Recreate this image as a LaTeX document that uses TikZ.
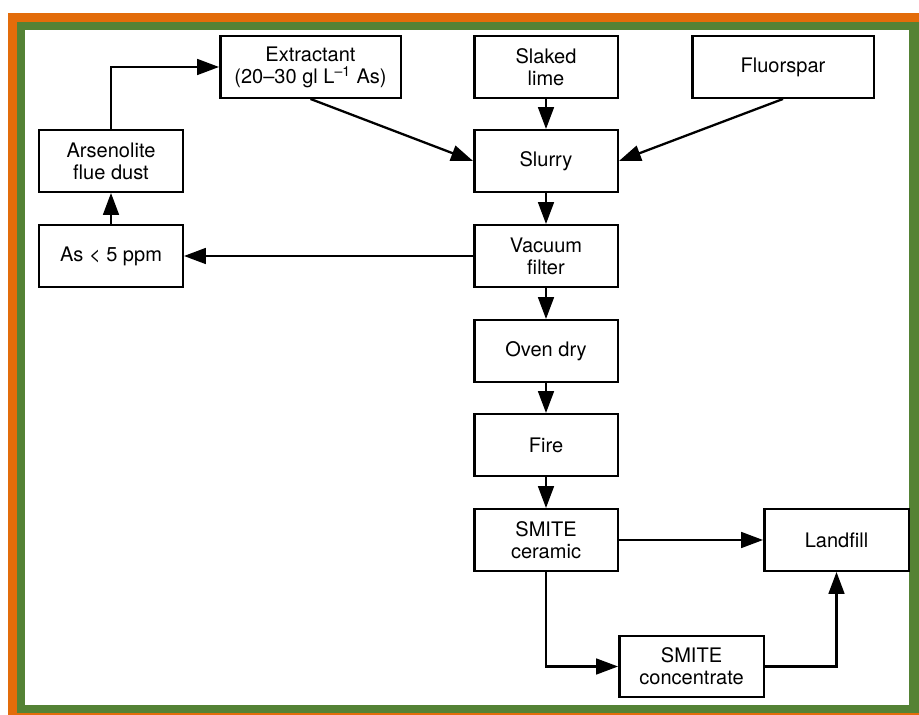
\documentclass[tikz,border=0pt]{standalone}
\usepackage{fontspec}
\setmainfont{TeX Gyre Heros}
\usetikzlibrary{arrows.meta,calc}
\definecolor{frameorange}{RGB}{227,108,10}
\definecolor{framegreen}{RGB}{84,130,53}

\begin{document}
\begin{tikzpicture}[x=0.02cm,y=-0.02cm,
  box/.style={draw,line width=1.4pt,minimum width=2.87cm,minimum height=1.23cm,
    align=center,inner sep=2pt,font=\fontsize{11.4}{12.6}\selectfont},
  flow/.style={line width=1.3pt,-{Triangle[length=12.5pt,width=9pt]}}]

  %% Frame
  \useasboundingbox (0,0) rectangle (919,715);
  \fill[frameorange] (8,13) rectangle (930,725);
  \fill[framegreen] (17,22) rectangle (925,713);
  \fill[white] (25,30) rectangle (909,705);

  %% Boxes
  \node[box,minimum width=3.61cm] (ext) at (310.5,67) {Extractant\\(20–30 gl L\textsuperscript{–1} As)};
  \node[box] (lime) at (546,67) {Slaked\\lime};
  \node[box,minimum width=3.63cm] (flu) at (783,67) {Fluorspar};
  \node[box] (ars) at (111,161) {Arsenolite\\flue dust};
  \node[box] (slu) at (546,161) {Slurry};
  \node[box] (vac) at (546,256) {Vacuum\\filter};
  \node[box] (low) at (111,256) {As < 5 ppm};
  \node[box] (oven) at (546,351) {Oven dry};
  \node[box] (fire) at (546,445) {Fire};
  \node[box] (cer) at (546,540) {SMITE\\ceramic};
  \node[box,minimum width=2.89cm] (land) at (836.5,540) {Landfill};
  \node[box,minimum width=2.89cm] (conc) at (691.5,666.5) {SMITE\\concentrate};

  %% Main column
  \foreach \a/\b in {lime/slu,slu/vac,vac/oven,oven/fire,fire/cer}
  {
    \draw[flow] (\a) -- (\b);
  }

  %% Side inputs and outputs
  \draw[flow] (ext.south) -- (slu.west);
  \draw[flow] (flu.south) -- (slu.east);
  \draw[flow] (vac) -- (low);
  \draw[flow] (low) -- (ars);
  \draw[flow] (ars.north) |- (ext.west);
  \draw[flow] (cer) -- (land);
  \draw[flow] (cer.south) |- (conc.west);
  \draw[flow] (conc.east) -| (land.south);

\end{tikzpicture}
\end{document}
